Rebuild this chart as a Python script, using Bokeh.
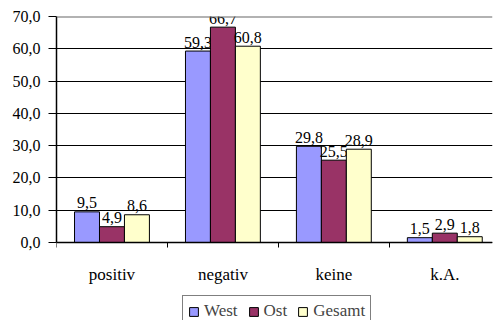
from bokeh.plotting import figure
from bokeh.models import (ColumnDataSource, FixedTicker, Range1d, Legend, LegendItem, Span,
                          LinearAxis)
from bokeh.core.properties import value
from bokeh.embed import file_html
from bokeh.resources import INLINE

categories = ["positiv", "negativ", "keine", "k.A."]
west = [9.5, 59.3, 29.8, 1.5]
ost = [4.9, 66.7, 25.5, 2.9]
gesamt = [8.6, 60.8, 28.9, 1.8]
series_names = ["West", "Ost", "Gesamt"]
series_colors = ["#9999FF", "#993366", "#FFFFCC"]
y_ticks = [0, 10, 20, 30, 40, 50, 60, 70]
y_tick_labels = ["0,0", "10,0", "20,0", "30,0", "40,0", "50,0", "60,0", "70,0"]

FONT = "Liberation Serif"

p = figure(width=493, height=320, output_backend="svg", toolbar_location=None,
           x_range=Range1d(0, 3.93), y_range=Range1d(-24.15, 70),
           x_axis_location=None,
           min_border_left=56, min_border_right=1, min_border_top=16, min_border_bottom=0)
p.outline_line_color = None
p.background_fill_color = "white"
p.border_fill_color = "white"

bar_w = 0.225
offsets = [-bar_w, 0.0, bar_w]
renderers = []
for name, vals, col, off in zip(series_names, [west, ost, gesamt], series_colors, offsets):
    xs = [i + 0.5 + off for i in range(len(categories))]
    src = ColumnDataSource(dict(x=xs, top=vals, lbl=[f"{v:.1f}".replace(".", ",") for v in vals]))
    r = p.vbar(x="x", top="top", bottom=0, width=bar_w, source=src,
               fill_color=col, line_color="black", line_width=1)
    renderers.append(r)
    p.text(x="x", y="top", text="lbl", source=src, text_align="center",
           text_baseline="alphabetic", y_offset=-9, text_font=value(FONT),
           text_font_size="16px", text_color="black")

# x axis drawn at y = 0 inside the frame
xax = LinearAxis(fixed_location=0)
xax.ticker = FixedTicker(ticks=[i + 0.5 for i in range(len(categories))],
                         minor_ticks=list(range(len(categories) + 1)))
xax.major_label_overrides = {i + 0.5: c for i, c in enumerate(categories)}
xax.major_tick_out = 0
xax.major_tick_in = 0
xax.minor_tick_out = 5
xax.minor_tick_in = 0
xax.minor_tick_line_color = "black"
xax.major_label_standoff = 17
xax.major_label_text_font = FONT
xax.major_label_text_font_size = "17px"
xax.major_label_text_color = "black"
xax.axis_line_color = "black"
xax.axis_line_width = 1.5
p.add_layout(xax, "below")

# y axis
p.yaxis.ticker = FixedTicker(ticks=y_ticks)
p.yaxis.bounds = (0, 70)
p.yaxis.major_label_overrides = {t: l for t, l in zip(y_ticks, y_tick_labels)}
p.yaxis.major_tick_out = 8
p.yaxis.major_tick_in = 0
p.yaxis.minor_tick_out = 0
p.yaxis.minor_tick_in = 0
p.yaxis.major_label_standoff = 8
p.yaxis.major_label_text_font = FONT
p.yaxis.major_label_text_font_size = "16px"
p.yaxis.major_label_text_color = "black"
p.yaxis.axis_line_color = "black"
p.yaxis.axis_line_width = 1.5

p.xgrid.grid_line_color = None
p.ygrid.ticker = FixedTicker(ticks=y_ticks)
p.ygrid.grid_line_color = "black"
p.ygrid.grid_line_width = 1
p.add_layout(Span(location=70, dimension="width", line_color="#666666", line_width=2))

legend = Legend(items=[LegendItem(label=n, renderers=[r]) for n, r in zip(series_names, renderers)],
                orientation="horizontal", location=(126, -7),
                label_text_font=FONT, label_text_font_size="17px",
                glyph_width=11, glyph_height=11, label_standoff=5, spacing=10,
                padding=5, margin=0, border_line_color="black", border_line_width=1,
                background_fill_alpha=1)
p.add_layout(legend, "center")

open("out.html", "w").write(file_html(p, INLINE))
